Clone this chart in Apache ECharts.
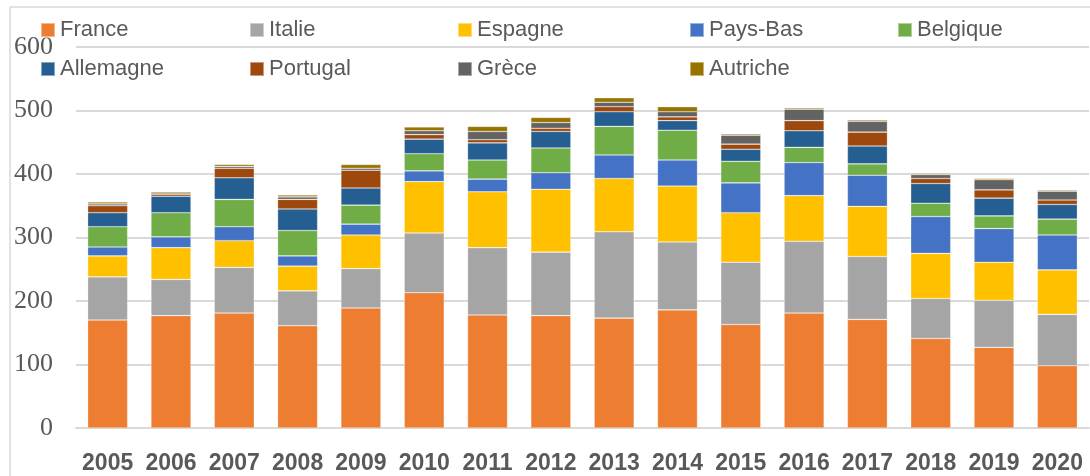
<!DOCTYPE html>
<html>
<head>
<meta charset="utf-8">
<script src="https://cdn.jsdelivr.net/npm/echarts@6/dist/echarts.min.js"></script>
<style>html,body{margin:0;padding:0;background:#fff}#c{width:1090px;height:476px}</style>
</head>
<body>
<div id="c"></div>
<script>
const years = ['2005','2006','2007','2008','2009','2010','2011','2012','2013','2014','2015','2016','2017','2018','2019','2020'];
const yTicks = [0, 100, 200, 300, 400, 500, 600];
const seriesNames = ['France','Italie','Espagne','Pays-Bas','Belgique','Allemagne','Portugal','Grèce','Autriche'];
const france    = [170, 177, 181, 161, 189, 213, 178, 177, 173, 186, 163, 181, 171, 141, 127, 98];
const italie    = [68, 57, 72, 55, 62, 94, 106, 100, 136, 107, 98, 113, 99, 63, 74, 81];
const espagne   = [33, 50, 42, 39, 53, 81, 88, 99, 84, 88, 78, 72, 79, 71, 60, 70];
const paysBas   = [14, 17, 22, 16, 17, 17, 20, 26, 37, 41, 47, 52, 49, 58, 53, 55];
const belgique  = [32, 38, 43, 40, 30, 27, 30, 39, 45, 47, 34, 24, 18, 21, 20, 25];
const allemagne = [22, 26, 34, 34, 27, 23, 27, 26, 23, 15, 19, 26, 28, 31, 28, 23];
const portugal  = [11, 3, 15, 15, 28, 7, 5, 5, 8, 6, 8, 16, 22, 8, 13, 7];
const grece     = [3, 2, 3, 4, 3, 6, 13, 9, 7, 8, 14, 18, 17, 6, 16, 14];
const autriche  = [3, 2, 3, 3, 6, 6, 8, 8, 7, 8, 2, 2, 2, 2, 2, 2];

const values = [france, italie, espagne, paysBas, belgique, allemagne, portugal, grece, autriche];
const colors = ['#ED7D31','#A5A5A5','#FFC000','#4472C4','#70AD47','#255E91','#9E480E','#636363','#997300'];
const legendPos = [[40,19],[249,19],[457,19],[689,19],[897,19],[40,58],[249,58],[457,58],[689,58]];

const chart = echarts.init(document.getElementById('c'), null, {renderer:'canvas'});
const legends = seriesNames.map((n, i) => ({
  data: [n], left: legendPos[i][0], top: legendPos[i][1], padding: 0,
  icon: 'rect', itemWidth: 14, itemHeight: 14, selectedMode: false,
  textStyle: {fontFamily: 'Liberation Sans', fontSize: 22, color: '#595959'}
}));
chart.setOption({
  animation: false,
  color: colors,
  legend: legends,
  grid: {left: 76, right: 1, top: 47, height: 381, containLabel: false},
  xAxis: {
    type: 'category', data: years,
    axisLine: {show: true, lineStyle: {color: '#d9d9d9', width: 2}},
    axisTick: {show: false},
    axisLabel: {interval: 0, hideOverlap: false, margin: 24, fontFamily: 'Liberation Sans', fontWeight: 'bold', fontSize: 23, color: '#595959'}
  },
  yAxis: {
    type: 'value', min: yTicks[0], max: yTicks[yTicks.length-1], interval: 100,
    axisLine: {show: false}, axisTick: {show: false},
    splitLine: {lineStyle: {color: '#d9d9d9', width: 2}},
    axisLabel: {margin: 23, fontFamily: 'Liberation Serif', fontSize: 26, color: '#595959'}
  },
  graphic: [
    {type: 'line', shape: {x1: 10, y1: 7, x2: 1090, y2: 7}, style: {stroke: '#d9d9d9', lineWidth: 1.5}},
    {type: 'line', shape: {x1: 10, y1: 7, x2: 10, y2: 476}, style: {stroke: '#d9d9d9', lineWidth: 1.5}}
  ],
  series: seriesNames.map((n, i) => ({
    name: n, type: 'bar', stack: 'total', barWidth: 40,
    data: values[i],
    itemStyle: {color: colors[i], borderColor: 'rgba(255,255,255,0.45)', borderWidth: 0.6}
  }))
});
</script>
</body>
</html>
